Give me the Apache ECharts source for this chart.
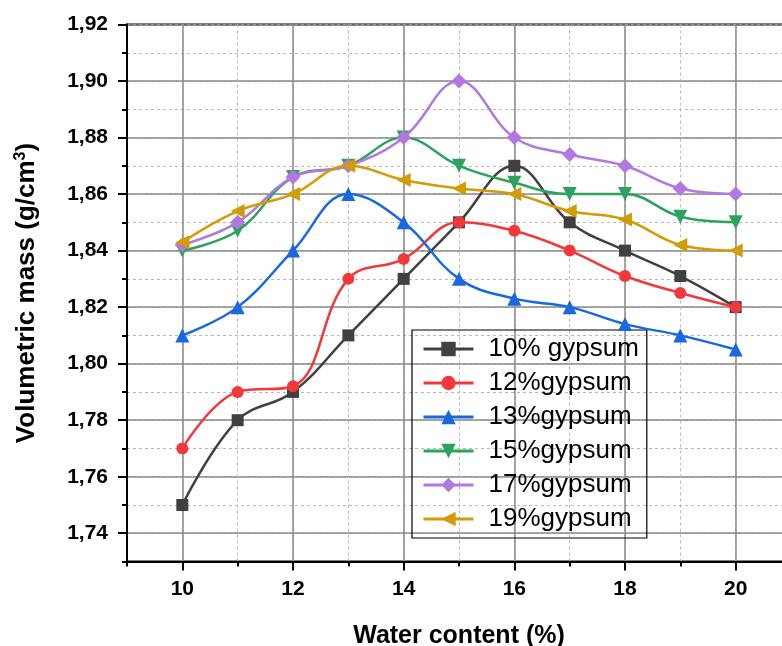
<!DOCTYPE html>
<html>
<head>
<meta charset="utf-8">
<script src="https://cdn.jsdelivr.net/npm/echarts@6/dist/echarts.min.js"></script>
<style>html,body{margin:0;padding:0;background:#fff;}#chart{width:782px;height:646px;}</style>
</head>
<body>
<div id="chart"></div>
<script>
const waterContent = [10, 11, 12, 13, 14, 15, 16, 17, 18, 19, 20];
const seriesNames = ['10% gypsum', '12%gypsum', '13%gypsum', '15%gypsum', '17%gypsum', '19%gypsum'];
const gyp10 = [1.75, 1.78, 1.79, 1.81, 1.83, 1.85, 1.87, 1.85, 1.84, 1.831, 1.82];
const gyp12 = [1.77, 1.79, 1.792, 1.83, 1.837, 1.85, 1.847, 1.84, 1.831, 1.825, 1.82];
const gyp13 = [1.81, 1.82, 1.84, 1.86, 1.85, 1.83, 1.823, 1.82, 1.814, 1.81, 1.805];
const gyp15 = [1.84, 1.847, 1.866, 1.87, 1.88, 1.87, 1.864, 1.86, 1.86, 1.852, 1.85];
const gyp17 = [1.842, 1.85, 1.866, 1.87, 1.88, 1.90, 1.88, 1.874, 1.87, 1.862, 1.86];
const gyp19 = [1.843, 1.854, 1.86, 1.87, 1.865, 1.862, 1.86, 1.854, 1.851, 1.842, 1.84];
const xMin = 9, xMax = 21, yMin = 1.73, yMax = 1.92;

const allValues = [gyp10, gyp12, gyp13, gyp15, gyp17, gyp19];
const colors = ['#404040', '#f2383a', '#1868e0', '#2ca35c', '#b277e0', '#d29c04'];
const symbols = ['rect', 'circle', 'triangle', 'triangle', 'diamond', 'triangle'];
const rotates = [0, 0, 0, 180, 0, 90];
const sizes = [12, 12, 14, 14, 15, 14];

const FONT = "'Liberation Sans', Arial, sans-serif";
const chart = echarts.init(document.getElementById('chart'), null, {renderer: 'canvas'});

const series = allValues.map((vals, i) => ({
  name: seriesNames[i],
  type: 'line',
  xAxisIndex: 1,
  yAxisIndex: 1,
  data: waterContent.map((x, j) => [x, vals[j]]),
  smooth: 0.4,
  symbol: symbols[i],
  symbolSize: sizes[i],
  symbolRotate: rotates[i],
  showAllSymbol: true,
  color: colors[i],
  lineStyle: {width: 2.5, color: colors[i]},
  itemStyle: {color: colors[i]},
  z: 3 + i
}));

chart.setOption({
  animation: false,
  backgroundColor: '#fff',
  textStyle: {fontFamily: FONT},
  grid: {left: 127, width: 664, top: 24.5, bottom: 84.5, outerBoundsMode: 'none', containLabel: false,
         show: true, borderColor: '#000', borderWidth: 2, backgroundColor: 'transparent'},
  legend: {
    orient: 'vertical',
    left: 412, top: 330,
    width: 239,
    padding: [6, 8, 6, 10],
    itemWidth: 50, itemHeight: 18, itemGap: 8,
    borderColor: '#000', borderWidth: 1.2,
    backgroundColor: 'transparent',
    lineStyle: {width: 3},
    textStyle: {fontFamily: FONT, fontSize: 26, color: '#000', lineHeight: 26, padding: [0, 0, 0, 10]},
    data: seriesNames
  },
  xAxis: [
    {
      type: 'value', min: xMin, max: xMax, interval: 1, position: 'bottom',
      axisLine: {show: false},
      axisTick: {show: true, length: 5, inside: false, lineStyle: {color: '#000', width: 2}},
      axisLabel: {show: false},
      splitLine: {show: true, lineStyle: {color: '#b8b8b8', width: 1, type: [3, 3]}}
    },
    {
      type: 'value', min: xMin, max: xMax, splitNumber: 6, position: 'bottom',
      name: 'Water content (%)', nameLocation: 'middle', nameGap: 62,
      nameTextStyle: {fontFamily: FONT, fontSize: 25, fontWeight: 'bold', color: '#000'},
      axisLine: {show: true, onZero: false, lineStyle: {color: '#000', width: 2}},
      axisTick: {show: true, length: 9, inside: false, lineStyle: {color: '#000', width: 2}},
      axisLabel: {show: true, showMinLabel: false, showMaxLabel: false, margin: 17, fontSize: 21, fontWeight: 'bold', color: '#000', fontFamily: FONT},
      splitLine: {show: true, lineStyle: {color: '#8a8a8a', width: 1.5}}
    }
  ],
  yAxis: [
    {
      type: 'value', min: yMin, max: yMax, interval: 0.01, position: 'left',
      axisLine: {show: false},
      axisTick: {show: true, length: 5, inside: false, lineStyle: {color: '#000', width: 2}},
      axisLabel: {show: false},
      splitLine: {show: true, lineStyle: {color: '#b8b8b8', width: 1, type: [3, 3]}}
    },
    {
      type: 'value', min: yMin, max: yMax, splitNumber: 10, position: 'left',
      name: 'Volumetric mass (g/cm{sup|3})', nameLocation: 'middle', nameGap: 86, nameRotate: 90,
      nameTextStyle: {fontFamily: FONT, fontSize: 26, fontWeight: 'bold', color: '#000',
        rich: {sup: {fontFamily: FONT, fontSize: 16, fontWeight: 'bold', color: '#000', verticalAlign: 'top', padding: [0, 0, 12, 0]}}},
      axisLine: {show: true, onZero: false, lineStyle: {color: '#000', width: 2}},
      axisTick: {show: true, length: 9, inside: false, lineStyle: {color: '#000', width: 2}},
      axisLabel: {show: true, showMinLabel: false, margin: 19, fontSize: 21, fontWeight: 'bold', color: '#000', fontFamily: FONT,
        formatter: v => v.toFixed(2).replace('.', ',')},
      splitLine: {show: true, lineStyle: {color: '#8a8a8a', width: 1.5}}
    }
  ],
  series: series
});
</script>
</body>
</html>
